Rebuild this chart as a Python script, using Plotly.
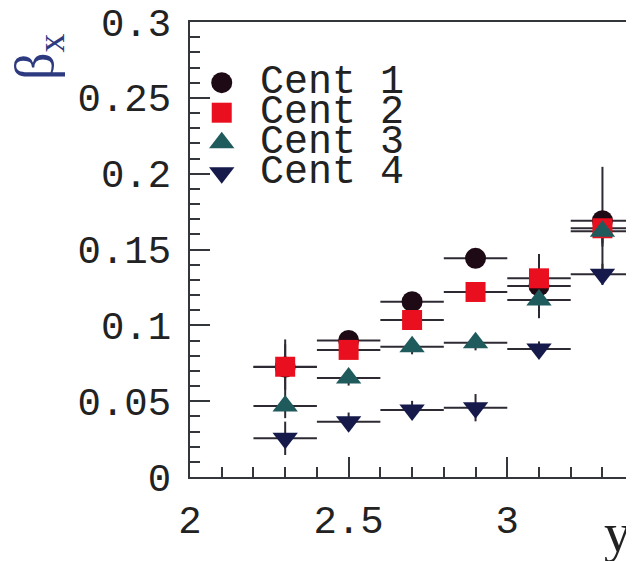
import plotly.graph_objects as go

# ---- data ----
rapidity = [2.3, 2.5, 2.7, 2.9, 3.1, 3.3]
x_halfwidth = [0.1, 0.1, 0.1, 0.1, 0.1, 0.1]

cent1 = [0.0725, 0.0900, 0.1156, 0.1442, 0.1260, 0.1690]
cent1_err = [0.015, 0.006, 0.006, 0.006, 0.021, 0.0355]

cent2 = [0.0727, 0.0838, 0.1035, 0.1220, 0.1310, 0.1640]
cent2_err = [0.018, 0.005, 0.005, 0.005, 0.016, 0.010]

cent3 = [0.0468, 0.0653, 0.0859, 0.0885, 0.1167, 0.1620]
cent3_err = [0.008, 0.005, 0.005, 0.005, 0.012, 0.010]

cent4 = [0.0255, 0.0365, 0.0442, 0.0457, 0.0844, 0.1336]
cent4_err = [0.011, 0.006, 0.006, 0.009, 0.005, 0.007]

series_names = ["Cent 1", "Cent 2", "Cent 3", "Cent 4"]
series_values = [cent1, cent2, cent3, cent4]
series_errors = [cent1_err, cent2_err, cent3_err, cent4_err]
series_symbols = ["circle", "square", "triangle-up", "triangle-down"]
series_colors = ["#1e0a14", "#ea0f1e", "#1f5b5d", "#151a4b"]
series_sizes = [21, 20, 22, 22]

# legend layout (style, in data units of the frame)
legend_marker_x = 2.1
legend_text_x = 2.213
legend_y0 = 0.26
legend_dy = 0.0198

FONT_MONO = "Liberation Mono, Courier New, monospace"
BAR_COLOR = "#2e2a33"
AXIS_COLOR = "#33363a"

fig = go.Figure()

# error bars first (under all markers)
for name, vals, errs in zip(series_names, series_values, series_errors):
    fig.add_trace(go.Scatter(
        x=rapidity, y=vals, mode="markers",
        marker=dict(size=1, opacity=0),
        error_x=dict(type="data", array=x_halfwidth, color=BAR_COLOR,
                     thickness=2, width=0),
        error_y=dict(type="data", array=errs, color=BAR_COLOR,
                     thickness=2, width=0),
        showlegend=False, hoverinfo="skip", name=name + " err",
    ))

# markers
for name, vals, sym, col, sz in zip(series_names, series_values,
                                    series_symbols, series_colors, series_sizes):
    fig.add_trace(go.Scatter(
        x=rapidity, y=vals, mode="markers", name=name,
        marker=dict(symbol=sym, color=col, size=sz, line=dict(width=0)),
        showlegend=False,
    ))

# manual legend (tight row spacing like the original)
for i, (name, sym, col, sz) in enumerate(zip(series_names, series_symbols,
                                             series_colors, series_sizes)):
    ly = legend_y0 - i * legend_dy
    fig.add_trace(go.Scatter(
        x=[legend_marker_x], y=[ly], mode="markers",
        marker=dict(symbol=sym, color=col, size=sz, line=dict(width=0)),
        showlegend=False, hoverinfo="skip", cliponaxis=False,
    ))
    fig.add_annotation(
        x=legend_text_x, y=ly, xref="x", yref="y", text=name,
        showarrow=False, xanchor="left", yanchor="middle",
        font=dict(family=FONT_MONO, size=40, color="#222222"),
    )

# axis titles
fig.add_annotation(
    x=-0.345, y=0.923, xref="paper", yref="paper",
    text="β<sub>x</sub>", textangle=-90, showarrow=False,
    xanchor="center", yanchor="middle",
    font=dict(family="Liberation Serif, serif", size=54, color="#2d3a80"),
)
fig.add_annotation(
    x=1.0045, y=-0.123, xref="paper", yref="paper",
    text="y", showarrow=False, xanchor="right", yanchor="middle",
    font=dict(family="Liberation Serif, serif", size=54, color="#222222"),
)

# the page body adds an 8 px offset, so margins are shifted by 8 px
fig.update_layout(
    width=634, height=561,
    margin=dict(l=182, r=11, t=14, b=92, autoexpand=False),
    paper_bgcolor="white", plot_bgcolor="white",
    showlegend=False,
)
fig.update_xaxes(
    range=[2, 3.39], dtick=0.5, tick0=2, automargin=False,
    showgrid=False, zeroline=False,
    showline=True, linewidth=2, linecolor=AXIS_COLOR, mirror=True,
    ticks="inside", ticklen=20, tickwidth=2, tickcolor=AXIS_COLOR,
    minor=dict(ticks="inside", ticklen=10, tickwidth=2, dtick=0.1,
               tickcolor=AXIS_COLOR, showgrid=False),
    tickfont=dict(family=FONT_MONO, size=39, color="#222222"),
    ticklabelstandoff=7, ticklabeloverflow="allow",
)
fig.update_yaxes(
    range=[0, 0.3], dtick=0.05, tick0=0, automargin=False,
    showgrid=False, zeroline=False,
    showline=True, linewidth=2, linecolor=AXIS_COLOR, mirror=True,
    ticks="inside", ticklen=20, tickwidth=2, tickcolor=AXIS_COLOR,
    minor=dict(ticks="inside", ticklen=10, tickwidth=2, dtick=0.01,
               tickcolor=AXIS_COLOR, showgrid=False),
    tickfont=dict(family=FONT_MONO, size=39, color="#222222"),
    ticklabelstandoff=9, ticklabeloverflow="allow",
)

fig.write_html("out.html")
